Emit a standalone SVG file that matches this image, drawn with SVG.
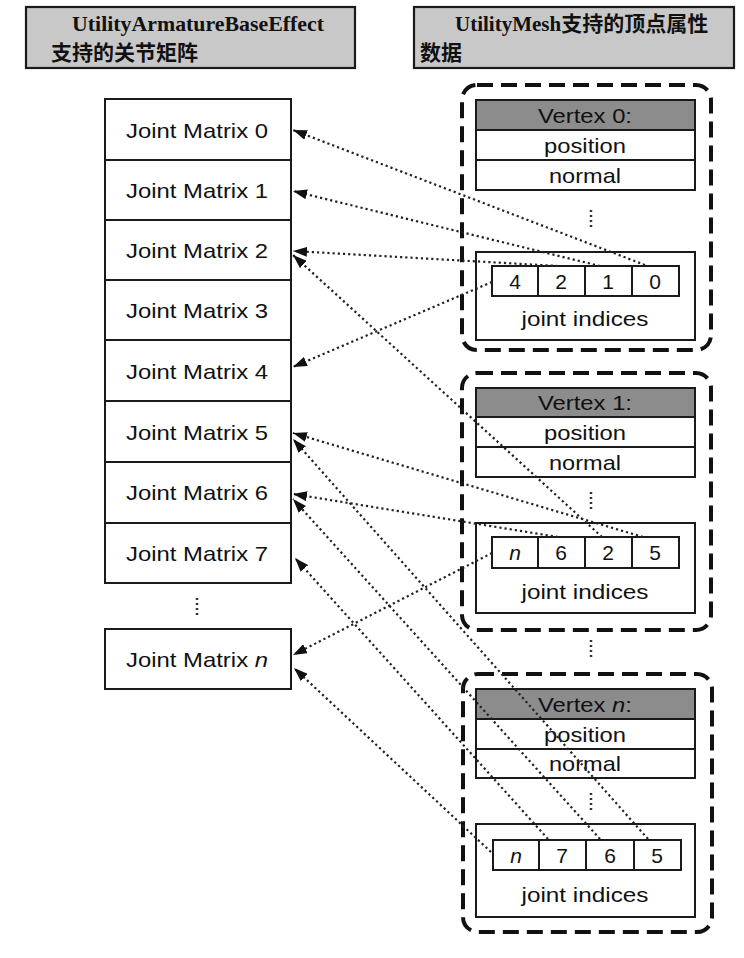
<svg xmlns="http://www.w3.org/2000/svg" width="744" height="958" viewBox="0 0 744 958">
<style>
.hdr{fill:#c8c8c8;stroke:#1a1a1a;stroke-width:2.2}
.ht{font-family:"Liberation Serif","Noto Sans CJK SC",serif;font-weight:bold;font-size:21px;fill:#111}
.cell{fill:#fff;stroke:#1a1a1a;stroke-width:2}
.vh{fill:#8c8c8c;stroke:#1a1a1a;stroke-width:2}
.t{font-family:"Liberation Sans",Arial,sans-serif;font-size:21px;fill:#111}
.m{text-anchor:middle}
.grp{fill:none;stroke:#111;stroke-width:4;stroke-dasharray:16 8}
.dots{stroke:#333;stroke-width:2.5;stroke-dasharray:2 3;fill:none}
.conn{stroke:#222;stroke-width:2.2;stroke-dasharray:2.2 3;fill:none}
</style>
<defs>
<marker id="ah" viewBox="0 0 14 10" refX="14" refY="5" markerWidth="14" markerHeight="10" markerUnits="userSpaceOnUse" orient="auto">
<path d="M0,0 L14,5 L0,10 z" fill="#111"/>
</marker>
</defs>
<rect width="744" height="958" fill="#fff"/>

<g id="header-left">
<rect class="hdr" x="26" y="7" width="329" height="61"/>
<text class="ht" x="72" y="31" textLength="252" lengthAdjust="spacingAndGlyphs">UtilityArmatureBaseEffect</text>
<text class="ht" x="51" y="60">支持的关节矩阵</text>
</g>
<g id="header-right">
<rect class="hdr" x="414" y="7" width="320" height="61"/>
<text class="ht" x="455" y="31">UtilityMesh支持的顶点属性</text>
<text class="ht" x="420" y="60">数据</text>
</g>

<g id="joint-matrices">
<rect class="cell" x="105" y="99" width="186" height="484"/>
<line class="cell" x1="105" y1="160" x2="291" y2="160"/>
<line class="cell" x1="105" y1="220" x2="291" y2="220"/>
<line class="cell" x1="105" y1="280" x2="291" y2="280"/>
<line class="cell" x1="105" y1="340" x2="291" y2="340"/>
<line class="cell" x1="105" y1="401" x2="291" y2="401"/>
<line class="cell" x1="105" y1="462" x2="291" y2="462"/>
<line class="cell" x1="105" y1="523" x2="291" y2="523"/>
<g class="t m">
<text x="197" y="138" textLength="142" lengthAdjust="spacingAndGlyphs">Joint Matrix 0</text>
<text x="197" y="198" textLength="142" lengthAdjust="spacingAndGlyphs">Joint Matrix 1</text>
<text x="197" y="258" textLength="142" lengthAdjust="spacingAndGlyphs">Joint Matrix 2</text>
<text x="197" y="318" textLength="142" lengthAdjust="spacingAndGlyphs">Joint Matrix 3</text>
<text x="197" y="379" textLength="142" lengthAdjust="spacingAndGlyphs">Joint Matrix 4</text>
<text x="197" y="440" textLength="142" lengthAdjust="spacingAndGlyphs">Joint Matrix 5</text>
<text x="197" y="500" textLength="142" lengthAdjust="spacingAndGlyphs">Joint Matrix 6</text>
<text x="197" y="561" textLength="142" lengthAdjust="spacingAndGlyphs">Joint Matrix 7</text>
</g>
<line class="dots" x1="197" y1="598" x2="197" y2="616"/>
</g>
<g id="joint-matrix-n">
<rect class="cell" x="105" y="629" width="186" height="60"/>
<text class="t m" x="197" y="667" textLength="142" lengthAdjust="spacingAndGlyphs">Joint Matrix <tspan font-style="italic">n</tspan></text>
</g>

<g id="vertex-0">
<rect class="grp" x="462" y="85" width="249" height="265" rx="15"/>
<rect class="vh" x="476" y="100" width="219" height="30"/>
<rect class="cell" x="476" y="130" width="219" height="30"/>
<rect class="cell" x="476" y="160" width="219" height="30"/>
<text class="t m" x="585" y="123" textLength="94" lengthAdjust="spacingAndGlyphs">Vertex 0:</text>
<text class="t m" x="585" y="153" textLength="82" lengthAdjust="spacingAndGlyphs">position</text>
<text class="t m" x="585" y="183" textLength="72" lengthAdjust="spacingAndGlyphs">normal</text>
<line class="dots" x1="591" y1="210" x2="591" y2="230"/>
<rect class="cell" x="476" y="252" width="219" height="88"/>
<rect class="cell" x="492" y="266" width="187" height="30"/>
<line class="cell" x1="538" y1="266" x2="538" y2="296"/>
<line class="cell" x1="585" y1="266" x2="585" y2="296"/>
<line class="cell" x1="632" y1="266" x2="632" y2="296"/>
<text class="t m" x="515" y="289">4</text>
<text class="t m" x="561" y="289">2</text>
<text class="t m" x="608" y="289">1</text>
<text class="t m" x="655" y="289">0</text>
<text class="t m" x="585" y="326" textLength="127" lengthAdjust="spacingAndGlyphs">joint indices</text>
</g>

<line class="dots" x1="591" y1="640" x2="591" y2="658"/>

<g id="vertex-1">
<rect class="grp" x="462" y="373" width="249" height="257" rx="15"/>
<rect class="vh" x="476" y="388" width="219" height="29"/>
<rect class="cell" x="476" y="417" width="219" height="30"/>
<rect class="cell" x="476" y="447" width="219" height="30"/>
<text class="t m" x="585" y="410" textLength="94" lengthAdjust="spacingAndGlyphs">Vertex 1:</text>
<text class="t m" x="585" y="440" textLength="82" lengthAdjust="spacingAndGlyphs">position</text>
<text class="t m" x="585" y="470" textLength="72" lengthAdjust="spacingAndGlyphs">normal</text>
<line class="dots" x1="591" y1="492" x2="591" y2="510"/>
<rect class="cell" x="476" y="523" width="219" height="90"/>
<rect class="cell" x="492" y="537" width="187" height="31"/>
<line class="cell" x1="538" y1="537" x2="538" y2="568"/>
<line class="cell" x1="585" y1="537" x2="585" y2="568"/>
<line class="cell" x1="632" y1="537" x2="632" y2="568"/>
<text class="t m" x="515" y="560" font-style="italic">n</text>
<text class="t m" x="561" y="560">6</text>
<text class="t m" x="608" y="560">2</text>
<text class="t m" x="655" y="560">5</text>
<text class="t m" x="585" y="599" textLength="127" lengthAdjust="spacingAndGlyphs">joint indices</text>
</g>

<g id="vertex-n">
<rect class="grp" x="463" y="674" width="249" height="258" rx="15"/>
<rect class="vh" x="476" y="689" width="219" height="30"/>
<rect class="cell" x="476" y="719" width="219" height="30"/>
<rect class="cell" x="476" y="749" width="219" height="29"/>
<text class="t m" x="585" y="712" textLength="94" lengthAdjust="spacingAndGlyphs">Vertex <tspan font-style="italic">n</tspan>:</text>
<text class="t m" x="585" y="742" textLength="82" lengthAdjust="spacingAndGlyphs">position</text>
<text class="t m" x="585" y="771" textLength="72" lengthAdjust="spacingAndGlyphs">normal</text>
<line class="dots" x1="591" y1="793" x2="591" y2="811"/>
<rect class="cell" x="476" y="824" width="219" height="93"/>
<rect class="cell" x="493" y="840" width="188" height="30"/>
<line class="cell" x1="539" y1="840" x2="539" y2="870"/>
<line class="cell" x1="586" y1="840" x2="586" y2="870"/>
<line class="cell" x1="634" y1="840" x2="634" y2="870"/>
<text class="t m" x="516" y="863" font-style="italic">n</text>
<text class="t m" x="562" y="863">7</text>
<text class="t m" x="610" y="863">6</text>
<text class="t m" x="657" y="863">5</text>
<text class="t m" x="585" y="902" textLength="127" lengthAdjust="spacingAndGlyphs">joint indices</text>
</g>

<g id="connectors">
<line class="conn" x1="645" y1="265" x2="293" y2="130" marker-end="url(#ah)"/>
<line class="conn" x1="600" y1="266" x2="293" y2="191" marker-end="url(#ah)"/>
<line class="conn" x1="558" y1="266" x2="293" y2="251" marker-end="url(#ah)"/>
<line class="conn" x1="492" y1="282" x2="293" y2="367" marker-end="url(#ah)"/>
<line class="conn" x1="602" y1="537" x2="293" y2="255" marker-end="url(#ah)"/>
<line class="conn" x1="643" y1="537" x2="293" y2="433" marker-end="url(#ah)"/>
<line class="conn" x1="558" y1="537" x2="293" y2="494" marker-end="url(#ah)"/>
<line class="conn" x1="492" y1="553" x2="293" y2="655" marker-end="url(#ah)"/>
<line class="conn" x1="648" y1="839" x2="293" y2="439" marker-end="url(#ah)"/>
<line class="conn" x1="600" y1="839" x2="293" y2="499" marker-end="url(#ah)"/>
<line class="conn" x1="548" y1="839" x2="295" y2="558" marker-end="url(#ah)"/>
<line class="conn" x1="491" y1="852" x2="294" y2="668" marker-end="url(#ah)"/>
</g>
</svg>
